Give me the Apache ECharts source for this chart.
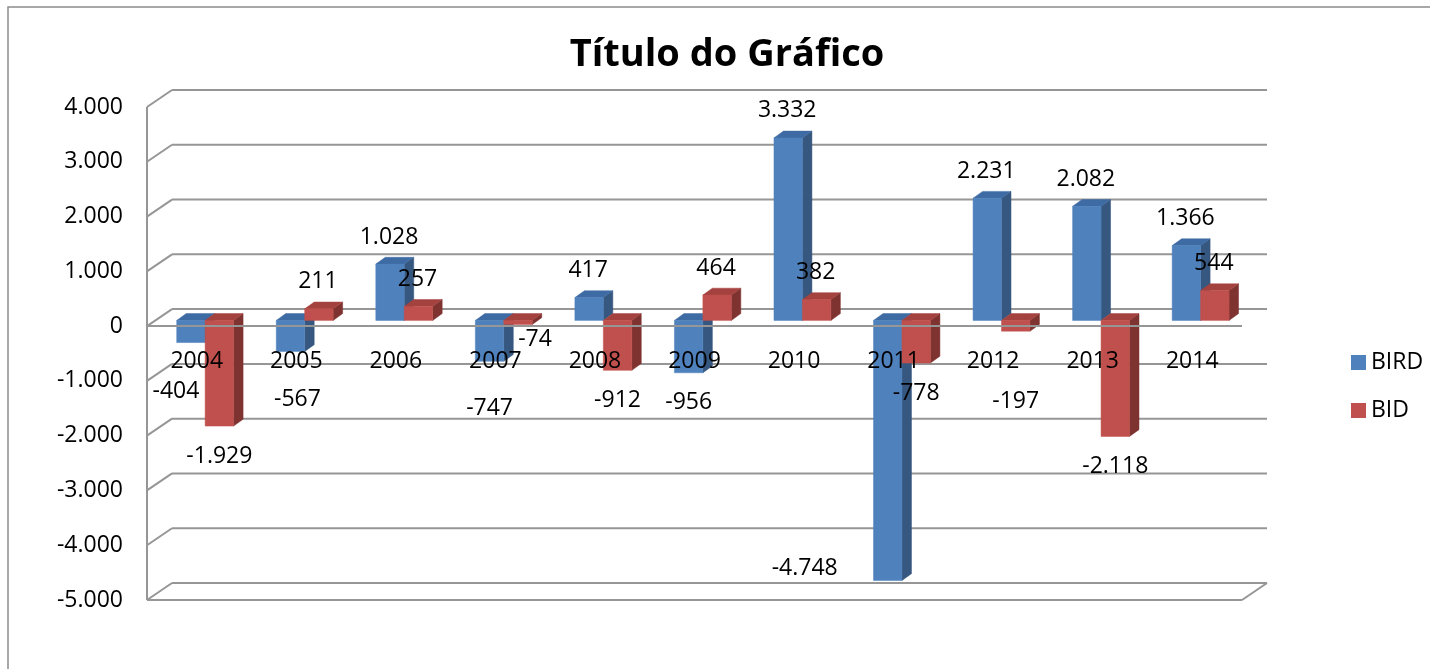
<!DOCTYPE html>
<html>
<head>
<meta charset="utf-8">
<script src="https://cdn.jsdelivr.net/npm/echarts@6/dist/echarts.min.js"></script>
<style>
  html, body { margin: 0; padding: 0; background: #fff; }
  #chart { width: 1430px; height: 669px; }
</style>
</head>
<body>
<div id="chart"></div>
<script>
// data
const years = ['2004', '2005', '2006', '2007', '2008', '2009', '2010', '2011', '2012', '2013', '2014']
const bird = [-404, -567, 1028, -747, 417, -956, 3332, -4748, 2231, 2082, 1366]
const bid = [-1929, 211, 257, -74, -912, 464, 382, -778, -197, -2118, 544]
const yTicks = [-5000, -4000, -3000, -2000, -1000, 0, 1000, 2000, 3000, 4000]

const FONT = '"Open Sans", "Noto Sans", sans-serif'
const FS = 23
const gridColor = '#969696'

// front plane of the box and how far back the back wall sits
const front = { left: 147, top: 107, width: 1095, height: 493 }
const DX = 25, DY = -17
// bars stand about a third of the way into the box
const barShift = 0.335
const BDX = 9.5, BDY = -6.8   // bar depth

const palette = {
  BIRD: { front: '#4F81BD', top: '#3E6BA3', side: '#36577F' },
  BID: { front: '#C0504D', top: '#A4423F', side: '#7E3331' }
}

// small nudges for the data labels that Excel put off their usual spot
const labelNudge = {
  '2004|BIRD': [-15, 19],
  '2005|BIRD': [7, 18],
  '2007|BIRD': [0, 17],
  '2007|BID': [17, -15],
  '2011|BIRD': [-83, -42],
  '2012|BID': [0, 40]
}

const fmt = (v) => {
  const s = String(Math.abs(v)).replace(/\B(?=(\d{3})+(?!\d))/g, '.')
  return v < 0 ? '-' + s : s
}

const line = (x1, y1, x2, y2) => ({
  type: 'line',
  shape: { x1, y1, x2, y2 },
  style: { stroke: gridColor, lineWidth: 2 }
})

const text = (str, x, y) => ({
  type: 'text',
  style: { text: str, x, y, align: 'center', verticalAlign: 'middle', fontSize: FS, fontFamily: FONT, fill: '#000' }
})

function wallsRender(params, api) {
  const t = api.value(1)
  const p = api.coord([0, t])
  const band = api.size([1, 0])[0]
  const left = p[0] - band / 2
  const right = left + band * years.length
  const y = p[1]
  const kids = [
    line(left + DX, y + DY, right + DX, y + DY),
    line(left, y, left + DX, y + DY)
  ]
  if (t === yTicks[0]) {
    kids.push(line(left, y, right, y))
    kids.push(line(right, y, right + DX, y + DY))
  }
  if (t === yTicks[yTicks.length - 1]) {
    const yb = api.coord([0, yTicks[0]])[1]
    kids.push(line(left, y, left, yb))
  }
  return { type: 'group', children: kids }
}

function zeroLineRender(params, api) {
  const p = api.coord([0, 0])
  const band = api.size([1, 0])[0]
  const left = p[0] - band / 2
  return line(left, p[1], left + band * years.length, p[1])
}

// year labels sit just under the zero line of the front plane
function yearRender(params, api) {
  const i = api.value(0)
  const p = api.coord([i, 0])
  return text(years[i], p[0], p[1] + 35)
}

function barGeom(api, side) {
  const idx = api.value(0), v = api.value(1)
  const c = api.coord([idx, v])
  const z = api.coord([idx, 0])
  const band = api.size([1, 0])[0]
  const w = band * 2 / 7
  const xl = side < 0 ? c[0] - w : c[0]
  return { xl, xr: xl + w, yt: Math.min(c[1], z[1]), yb: Math.max(c[1], z[1]), v, idx }
}

function barRender(name, side) {
  const pal = palette[name]
  return function (params, api) {
    const g = barGeom(api, side)
    const poly = (points, fill) => ({ type: 'polygon', shape: { points }, style: { fill, stroke: fill, lineWidth: 0.5 } })
    return {
      type: 'group',
      children: [
        poly([[g.xr, g.yt], [g.xr + BDX, g.yt + BDY], [g.xr + BDX, g.yb + BDY], [g.xr, g.yb]], pal.side),
        poly([[g.xl, g.yt], [g.xl + BDX, g.yt + BDY], [g.xr + BDX, g.yt + BDY], [g.xr, g.yt]], pal.top),
        poly([[g.xl, g.yt], [g.xr, g.yt], [g.xr, g.yb], [g.xl, g.yb]], pal.front)
      ]
    }
  }
}

function labelRender(name, side) {
  return function (params, api) {
    const g = barGeom(api, side)
    const cx = (g.xl + g.xr) / 2
    let x, y
    if (g.v >= 0) { x = cx - 1; y = g.yt - 27 } else { x = cx; y = g.yb + 30 }
    const n = labelNudge[years[g.idx] + '|' + name]
    if (n) { x += n[0]; y += n[1] }
    return text(fmt(g.v), x, y)
  }
}

const toData = (arr) => arr.map((v, i) => [i, v])

const chart = echarts.init(document.getElementById('chart'))

const option = {
  animation: false,
  backgroundColor: '#fff',
  graphic: [{
    type: 'rect',
    shape: { x: 8, y: 7, width: 1440, height: 680 },
    style: { fill: 'none', stroke: '#8c8c8c', lineWidth: 1.5 },
    silent: true
  }],
  title: {
    text: 'Título do Gráfico',
    left: 722,
    top: 31,
    textAlign: 'center',
    textStyle: { fontSize: 38, fontWeight: 'bold', fontFamily: FONT, color: '#000' }
  },
  legend: {
    data: ['BIRD', 'BID'],
    orient: 'vertical',
    left: 1346,
    top: 346,
    icon: 'rect',
    itemWidth: 15,
    itemHeight: 15,
    itemGap: 25,
    textStyle: { fontSize: FS, fontFamily: FONT, color: '#000' }
  },
  grid: [
    { left: front.left, top: front.top, width: front.width, height: front.height },
    {
      left: front.left + DX * barShift,
      top: front.top + DY * barShift,
      width: front.width,
      height: front.height
    }
  ],
  xAxis: [
    { gridIndex: 0, type: 'category', data: years, show: false },
    { gridIndex: 1, type: 'category', data: years, show: false }
  ],
  yAxis: [
    {
      gridIndex: 0, type: 'value', min: -5000, max: 4000, interval: 1000,
      axisLine: { show: false }, axisTick: { show: false }, splitLine: { show: false },
      axisLabel: { margin: 24, fontSize: FS, fontFamily: FONT, color: '#000', formatter: fmt }
    },
    { gridIndex: 1, type: 'value', min: -5000, max: 4000, interval: 1000, show: false, splitLine: { show: false } }
  ],
  series: [
    {
      type: 'custom', name: 'walls', xAxisIndex: 0, yAxisIndex: 0, z: 1, silent: true,
      data: yTicks.map((t) => [0, t]), renderItem: wallsRender
    },
    {
      type: 'custom', name: 'BIRD', xAxisIndex: 1, yAxisIndex: 1, z: 2,
      itemStyle: { color: palette.BIRD.front },
      data: toData(bird), renderItem: barRender('BIRD', -1)
    },
    {
      type: 'custom', name: 'BID', xAxisIndex: 1, yAxisIndex: 1, z: 2,
      itemStyle: { color: palette.BID.front },
      data: toData(bid), renderItem: barRender('BID', 1)
    },
    {
      type: 'custom', name: 'floor', xAxisIndex: 0, yAxisIndex: 0, z: 3, silent: true,
      data: [[0, 0]], renderItem: zeroLineRender
    },
    {
      type: 'custom', name: 'years', xAxisIndex: 0, yAxisIndex: 0, z: 4, silent: true,
      data: years.map((y, i) => [i, 0]), renderItem: yearRender
    },
    {
      type: 'custom', name: 'BIRD labels', xAxisIndex: 1, yAxisIndex: 1, z: 5, silent: true,
      data: toData(bird), renderItem: labelRender('BIRD', -1)
    },
    {
      type: 'custom', name: 'BID labels', xAxisIndex: 1, yAxisIndex: 1, z: 5, silent: true,
      data: toData(bid), renderItem: labelRender('BID', 1)
    }
  ]
}

chart.setOption(option)
window.addEventListener('resize', () => chart.resize())
</script>
</body>
</html>
